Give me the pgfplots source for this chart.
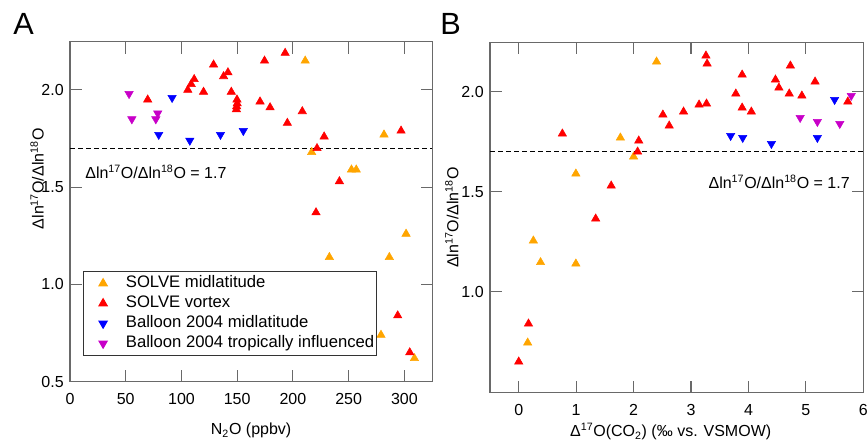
\documentclass[border=0pt]{standalone}
\usepackage{fontspec}
\setmainfont{Liberation Sans}
\usepackage{pgfplots}
\pgfplotsset{compat=1.18}

\definecolor{solvemid}{RGB}{255,165,0}
\definecolor{solvevtx}{RGB}{255,0,0}
\definecolor{balmid}{RGB}{0,0,255}
\definecolor{baltrop}{RGB}{200,0,200}
\definecolor{axgray}{RGB}{105,105,105}

\pgfplotsset{
  panel/.style={
    scale only axis,
    clip=false,
    axis line style={axgray,line width=0.8pt},
    tick style={axgray,line width=0.8pt},
    tickwidth=8.7pt,
    /pgf/number format/assume math mode=true,
    yticklabel style={/pgf/number format/fixed,/pgf/number format/fixed zerofill,
      /pgf/number format/precision=1,xshift=-0.5pt},
    xticklabel style={yshift=-4.5pt},
  },
  up/.style={only marks,mark=triangle*,mark size=3.6pt,color=#1},
  dn/.style={only marks,mark=triangle*,mark size=3.6pt,color=#1,mark options={rotate=180}},
  ratio/.style={black,line width=0.75pt,dash pattern=on 3.5pt off 2.5pt,forget plot},
  tk/.style={axgray,line width=0.8pt,no marks,forget plot,unbounded coords=jump},
}

\newcommand{\ratiolabel}{Δln\textsuperscript{17}O/Δln\textsuperscript{18}O}

\begin{document}
\fontsize{12}{14.4}\selectfont
\begin{tikzpicture}
\useasboundingbox (0,0) rectangle (651pt,330.75pt);

\node[font=\fontsize{23}{26}\selectfont,anchor=base west,inner sep=0pt] at (9.75pt,304.5pt) {A};
\node[font=\fontsize{23}{26}\selectfont,anchor=base west,inner sep=0pt] at (330pt,304.5pt) {B};

% panel A
\begin{axis}[panel,
  at={(52.5pt,44.5pt)}, anchor=south west,
  width=271.7pt, height=254.8pt,
  xmin=0, xmax=325, ymin=0.5, ymax=2.247,
  xtick={0,50,...,300}, ytick={0.5,1,1.5,2},
  xlabel={N\textsubscript{2}O (ppbv)},
  xlabel style={at={(axis description cs:0.5,0)},anchor=base,yshift=-40pt},
  ylabel={\ratiolabel},
  ylabel style={at={(axis description cs:-0.091,0.597)},anchor=center},
  legend style={at={(0.0359,0.3259)},anchor=north west,
    draw=black!80,line width=0.75pt,
    font=\fontsize{12.5}{15}\selectfont,
    inner xsep=1pt,inner ysep=1.5pt,column sep=6.3pt,
    nodes={inner xsep=0.5pt,inner ysep=1.75pt,text height=9pt,text depth=2.5pt}},
  legend cell align=left,
  legend image code/.code={%
    \path[draw=none,fill=none] (0pt,-2pt) rectangle (24pt,2pt);
    \path[draw=none,fill=none,#1] plot coordinates {(13.7pt,0pt)};},
]
% inward ticks on all four sides
\addplot[tk] coordinates {
  (50,0.5) (50,0.5596) (50,nan) (100,0.5) (100,0.5596) (100,nan)
  (150,0.5) (150,0.5596) (150,nan) (200,0.5) (200,0.5596) (200,nan)
  (250,0.5) (250,0.5596) (250,nan) (300,0.5) (300,0.5596) (300,nan)
  (50,2.247) (50,2.1874) (50,nan) (100,2.247) (100,2.1874) (100,nan)
  (150,2.247) (150,2.1874) (150,nan) (200,2.247) (200,2.1874) (200,nan)
  (250,2.247) (250,2.1874) (250,nan) (300,2.247) (300,2.1874) (300,nan)
  (0,1) (10.4,1) (nan,1) (0,1.5) (10.4,1.5) (nan,1.5) (0,2) (10.4,2) (nan,2)
  (325,1) (314.6,1) (nan,1) (325,1.5) (314.6,1.5) (nan,1.5) (325,2) (314.6,2)};

\addplot[ratio] coordinates {(0,1.7) (325,1.7)};

\addplot[up=solvemid] coordinates {
  (211,2.15) (216.8,1.68) (252.5,1.59) (256.8,1.59) (281.7,1.77)
  (232.7,1.14) (301.5,1.26) (286.5,1.14) (279,0.74) (309,0.62)};
\addlegendentry{SOLVE midlatitude}

\addplot[up=solvevtx] coordinates {
  (69.7,1.95) (105.7,2.00) (108.7,2.03) (111.4,2.055) (119.8,1.99)
  (128.8,2.13) (137.8,2.07) (141.7,2.09) (144.7,1.99) (149.8,1.95)
  (150,1.93) (149.5,1.915) (149.3,1.90) (170.5,1.94) (179.5,1.91)
  (174.5,2.15) (193,2.19) (195,1.83) (208.4,1.89) (228,1.76)
  (221.6,1.70) (241.7,1.53) (297,1.79) (220.7,1.37) (294,0.84)
  (304.8,0.65)};
\addlegendentry{SOLVE vortex}

\addplot[dn=balmid] coordinates {
  (91.6,1.96) (79.6,1.77) (107.5,1.74) (135,1.77) (155.5,1.79)};
\addlegendentry{Balloon 2004 midlatitude}

\addplot[dn=baltrop] coordinates {
  (53,1.98) (55.5,1.85) (78.7,1.88) (77,1.85)};
\addlegendentry{Balloon 2004 tropically influenced}

\node[anchor=base west,inner sep=0pt] at (axis cs:13.5,1.546) {\ratiolabel{} = 1.7};
\end{axis}

% panel B
\begin{axis}[panel,
  at={(367.5pt,36.2pt)}, anchor=south west,
  width=280pt, height=262.8pt,
  xmin=-0.5, xmax=6, ymin=0.495, ymax=2.247,
  xtick={0,1,...,6}, ytick={1,1.5,2},
  xlabel={Δ\textsuperscript{17}O(CO\textsubscript{2}) (‰ vs. VSMOW)},
  xlabel style={at={(axis description cs:0.5,0)},anchor=base,yshift=-33pt,xshift=-4.5pt},
  ylabel={\ratiolabel},
  ylabel style={at={(axis description cs:-0.102,0.5)},anchor=center},
]
\addplot[tk] coordinates {
  (0,0.495) (0,0.553) (0,nan) (1,0.495) (1,0.553) (1,nan)
  (2,0.495) (2,0.553) (2,nan) (3,0.495) (3,0.553) (3,nan)
  (4,0.495) (4,0.553) (4,nan) (5,0.495) (5,0.553) (5,nan)
  (0,2.247) (0,2.189) (0,nan) (1,2.247) (1,2.189) (1,nan)
  (2,2.247) (2,2.189) (2,nan) (3,2.247) (3,2.189) (3,nan)
  (4,2.247) (4,2.189) (4,nan) (5,2.247) (5,2.189) (5,nan)
  (-0.5,1) (-0.298,1) (nan,1) (-0.5,1.5) (-0.298,1.5) (nan,1.5) (-0.5,2) (-0.298,2) (nan,2)
  (6,1) (5.798,1) (nan,1) (6,1.5) (5.798,1.5) (nan,1.5) (6,2) (5.798,2)};

\addplot[ratio] coordinates {(-0.5,1.7) (6,1.7)};

\addplot[up=solvemid] coordinates {
  (2.40,2.15) (1.77,1.77) (2.00,1.675) (0.995,1.59) (0.255,1.255)
  (0.38,1.147) (0.995,1.14) (0.156,0.745)};

\addplot[up=solvevtx] coordinates {
  (3.26,2.18) (3.28,2.14) (3.89,2.085) (4.73,2.13) (4.47,2.06)
  (4.53,2.02) (5.16,2.05) (3.78,1.99) (4.71,1.99) (4.93,1.98)
  (5.73,1.95) (3.89,1.92) (4.05,1.90) (3.14,1.935) (3.27,1.94)
  (2.87,1.90) (2.51,1.885) (2.62,1.83) (0.76,1.79) (2.09,1.755)
  (2.07,1.70) (1.61,1.53) (1.34,1.365) (0.17,0.84) (0.0,0.65)};

\addplot[dn=balmid] coordinates {
  (3.69,1.78) (3.90,1.77) (4.40,1.74) (5.20,1.77) (5.50,1.96)};

\addplot[dn=baltrop] coordinates {
  (4.90,1.87) (5.20,1.85) (5.59,1.84) (5.79,1.98)};

\node[anchor=base east,inner sep=0pt] at (axis cs:5.768,1.515) {\ratiolabel{} = 1.7};
\end{axis}
\end{tikzpicture}
\end{document}
